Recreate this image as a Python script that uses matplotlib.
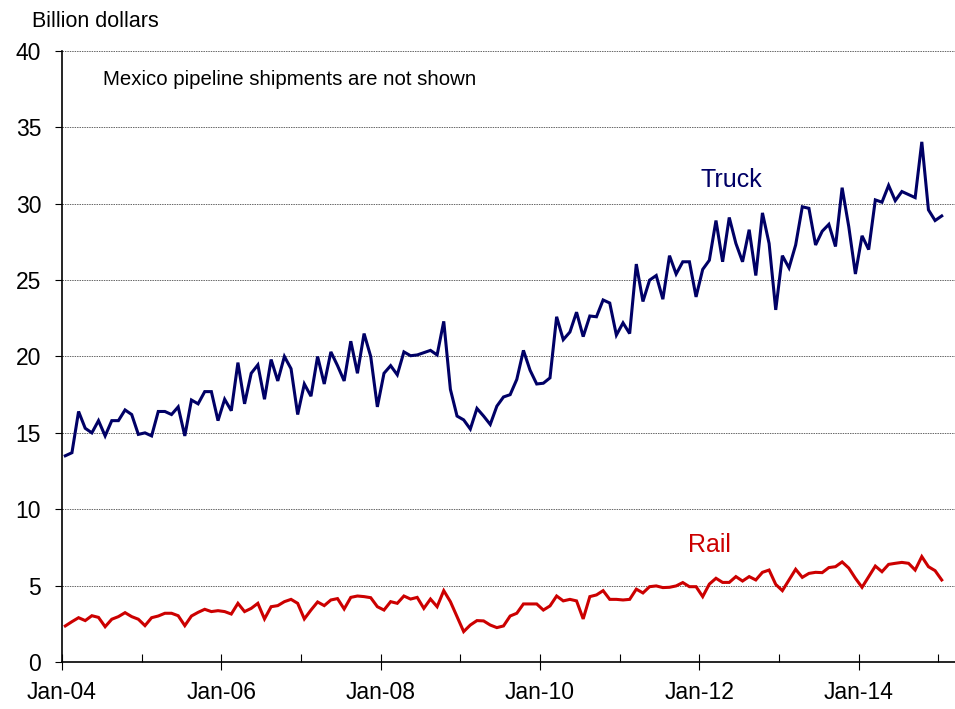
import matplotlib
matplotlib.use('Agg')
import matplotlib.pyplot as plt
import numpy as np

plt.rcParams['font.family'] = ['Liberation Sans', 'DejaVu Sans']

# monthly values, Jan-04 .. Jan-15 (billion dollars)
truck = [13.5, 13.7, 16.4, 15.3, 15.0, 15.8, 14.8, 15.8, 15.8, 16.5,
         16.2, 14.9, 15.0, 14.8, 16.4, 16.4, 16.2, 16.7, 14.8, 17.15,
         16.9, 17.7, 17.7, 15.8, 17.2, 16.45, 19.6, 16.9, 18.9, 19.45,
         17.2, 19.8, 18.4, 20.0, 19.2, 16.2, 18.2, 17.4, 20.0, 18.2,
         20.3, 19.4, 18.4, 21.0, 18.9, 21.5, 20.0, 16.7, 18.9, 19.4,
         18.8, 20.3, 20.05, 20.1, 20.25, 20.4, 20.1, 22.3, 17.85, 16.1,
         15.85, 15.25, 16.6, 16.1, 15.55, 16.75, 17.35, 17.5, 18.5, 20.4,
         19.1, 18.2, 18.25, 18.6, 22.6, 21.1, 21.6, 22.9, 21.3, 22.65,
         22.6, 23.7, 23.5, 21.4, 22.2, 21.5, 26.05, 23.6, 25.0, 25.3,
         23.75, 26.6, 25.4, 26.2, 26.2, 23.9, 25.7, 26.3, 28.9, 26.2,
         29.1, 27.4, 26.2, 28.3, 25.3, 29.4, 27.4, 23.05, 26.6, 25.8,
         27.3, 29.8, 29.7, 27.3, 28.2, 28.65, 27.2, 31.05, 28.5, 25.4,
         27.9, 27.0, 30.25, 30.1, 31.2, 30.2, 30.8, 30.6, 30.4, 34.05,
         29.6, 28.9, 29.2]

rail = [2.36, 2.64, 2.9, 2.71, 3.03, 2.92, 2.31, 2.8, 2.97, 3.23,
        2.97, 2.8, 2.38, 2.9, 3.01, 3.19, 3.19, 3.03, 2.38, 3.01,
        3.25, 3.45, 3.3, 3.36, 3.3, 3.14, 3.84, 3.3, 3.51, 3.84,
        2.82, 3.62, 3.69, 3.95, 4.1, 3.84, 2.82, 3.4, 3.93, 3.69,
        4.06, 4.15, 3.47, 4.23, 4.32, 4.28, 4.21, 3.62, 3.4, 3.95,
        3.84, 4.32, 4.12, 4.23, 3.51, 4.12, 3.62, 4.67, 3.95, 2.97,
        1.99, 2.42, 2.71, 2.69, 2.42, 2.25, 2.36, 3.01, 3.19, 3.8,
        3.8, 3.8, 3.4, 3.67, 4.32, 4.0, 4.1, 4.0, 2.82, 4.28,
        4.39, 4.67, 4.1, 4.1, 4.06, 4.1, 4.77, 4.52, 4.93, 4.98,
        4.87, 4.89, 4.98, 5.2, 4.93, 4.93, 4.28, 5.1, 5.48, 5.21,
        5.21, 5.59, 5.3, 5.59, 5.37, 5.87, 6.02, 5.08, 4.67, 5.37,
        6.07, 5.54, 5.8, 5.87, 5.85, 6.18, 6.24, 6.55, 6.15, 5.48,
        4.89, 5.59, 6.28, 5.91, 6.39, 6.46, 6.52, 6.46, 6.02, 6.9,
        6.24, 5.98, 5.37]

year_labels = ['Jan-04', 'Jan-06', 'Jan-08', 'Jan-10', 'Jan-12', 'Jan-14']

x = np.arange(len(truck)) + 0.5

fig = plt.figure(figsize=(9.55, 7.09), dpi=100)
ax = fig.add_axes([0.0649, 0.0663, 0.9351, 0.8618])

ax.plot(x, truck, color='#000066', lw=2.2, solid_joinstyle='miter')
ax.plot(x, rail, color='#CC0000', lw=2.2, solid_joinstyle='miter')

ax.set_ylim(0, 40)
ax.set_xlim(0, 134.5)
ax.set_yticks(range(0, 41, 5))
ax.yaxis.grid(True, color='#666666', linestyle=(0, (1.5, 1)), lw=0.7)
ax.set_axisbelow(True)

ax.set_xticks(range(0, 6 * 24, 24))
ax.set_xticklabels(year_labels)
ax.set_xticks(range(12, 12 * 12, 24), minor=True)
ax.tick_params(axis='x', which='major', direction='inout', length=12, width=0.8,
               labelsize=16.5, pad=8)
ax.tick_params(axis='x', which='minor', direction='in', length=6, width=0.8)
ax.tick_params(axis='y', direction='out', length=5, width=0.8, labelsize=16.5, pad=10)

for s in ['top', 'right']:
    ax.spines[s].set_visible(False)
ax.spines['left'].set_linewidth(1.2)
ax.spines['bottom'].set_linewidth(1.2)

ax.text(6.2, 37.77, 'Mexico pipeline shipments are not shown', fontsize=14.7,
        ha='left', va='baseline')
ax.text(100.86, 31.1, 'Truck', color='#000066', fontsize=18, ha='center', va='baseline')
ax.text(97.54, 7.2, 'Rail', color='#CC0000', fontsize=18, ha='center', va='baseline')
fig.text(0.0332, 0.9624, 'Billion dollars', fontsize=15.5, ha='left', va='baseline')

fig.savefig('out.png', dpi=100)
